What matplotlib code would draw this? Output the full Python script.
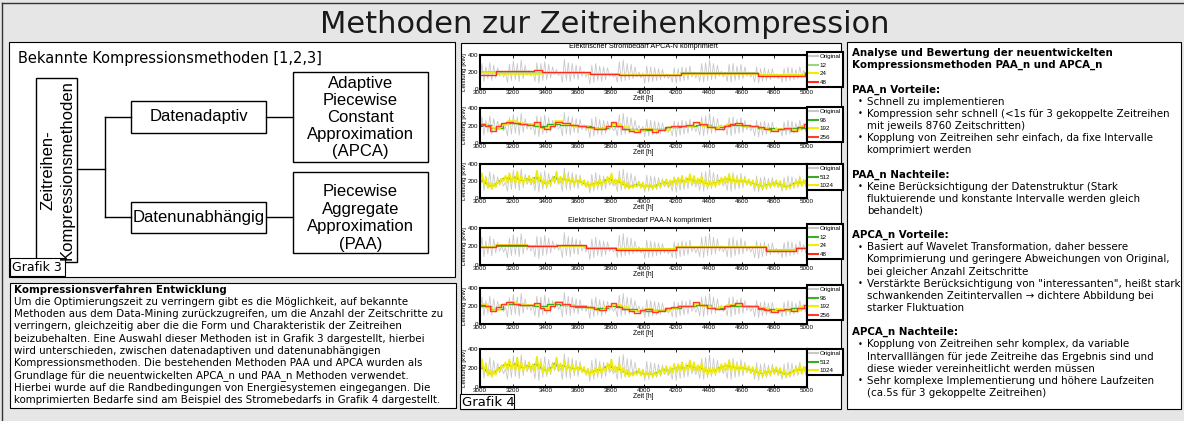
import numpy as np
import matplotlib.pyplot as plt
from matplotlib.patches import Rectangle

W, H = 1184, 421

# ---------------- data ----------------
# original load profile, one value every 12 h starting at 3000 h (low, high per day)
ORIGINAL = [110, 300, 90, 260, 120, 310, 100, 280, 130, 250, 150, 200, 140, 190,
            80, 290, 100, 330, 110, 300, 90, 340, 120, 280, 160, 220, 150, 210,
            90, 310, 70, 300, 100, 320, 110, 290, 130, 260, 170, 230, 160, 200,
            80, 350, 100, 310, 90, 300, 120, 280, 110, 270, 150, 210, 140, 200,
            60, 280, 80, 300, 100, 270, 90, 260, 110, 250, 150, 190, 140, 180,
            80, 320, 90, 340, 100, 300, 110, 290, 120, 260, 140, 200, 130, 190,
            70, 270, 80, 260, 90, 250, 100, 240, 110, 230, 130, 180, 120, 170,
            80, 250, 70, 240, 90, 260, 100, 250, 110, 270, 140, 200, 130, 190,
            90, 300, 80, 310, 100, 340, 110, 300, 120, 280, 150, 210, 140, 200,
            90, 290, 80, 300, 100, 270, 110, 290, 120, 260, 150, 200, 140, 190,
            80, 260, 70, 240, 90, 250, 100, 230, 110, 240, 130, 180, 120, 170,
            80, 240, 90, 260, 100, 250, 110, 230, 120, 260, 140, 220, 130, 280]

# 1024 / 512 values (12 h and 24 h resolution)
SERIES_1024 = [150, 280, 160, 240, 120, 180, 110, 170, 130, 200, 170, 230, 200, 260,
               180, 290, 190, 250, 180, 310, 170, 260, 170, 230, 190, 260, 180, 240,
               170, 320, 190, 260, 150, 210, 140, 200, 160, 240, 190, 310, 180, 250,
               170, 280, 180, 240, 170, 240, 160, 220, 170, 230, 160, 210, 130, 190,
               120, 180, 130, 200, 140, 220, 150, 200, 170, 250, 180, 290, 170, 220,
               160, 240, 150, 200, 120, 180, 110, 150, 120, 160, 130, 190, 120, 180,
               110, 160, 120, 160, 110, 150, 120, 180, 130, 200, 150, 220, 140, 210,
               150, 240, 160, 240, 170, 260, 160, 230, 180, 280, 170, 260, 170, 230,
               170, 250, 150, 210, 130, 200, 140, 200, 140, 210, 160, 240, 180, 250,
               180, 280, 170, 250, 170, 240, 160, 230, 170, 230, 160, 220, 150, 210,
               130, 200, 120, 180, 110, 170, 120, 190, 130, 190, 140, 210, 140, 200,
               120, 180, 110, 150, 120, 170, 140, 200, 150, 230, 140, 210, 160, 250]
SERIES_512 = [215, 200, 150, 135, 160, 200, 230,
              235, 220, 245, 215, 200, 225, 210,
              240, 225, 180, 170, 200, 250, 215,
              225, 210, 205, 190, 200, 185, 160,
              150, 165, 180, 175, 210, 230, 195,
              200, 175, 150, 130, 140, 160, 150,
              135, 140, 130, 150, 165, 185, 175,
              190, 200, 210, 195, 225, 215, 200,
              210, 180, 165, 170, 175, 200, 215,
              225, 210, 205, 195, 200, 190, 180,
              165, 150, 140, 155, 160, 175, 170,
              150, 130, 145, 170, 185, 175, 200]

# step series: segment start times [h] and levels [kW]
N12_APCA_T = [3000, 3100, 3660, 3850, 4230, 4700, 4990]
N12_APCA_V = [200, 190, 180, 170, 185, 165, 185]
N24_APCA_T = [3000, 3100, 3380, 3660, 3850, 4230, 4700, 4990]
N24_APCA_V = [185, 175, 185, 175, 160, 180, 160, 175]
N48_APCA_T = [3000, 3100, 3330, 3380, 3500, 3670, 3850, 4230, 4700, 4990]
N48_APCA_V = [170, 215, 225, 200, 205, 180, 165, 190, 150, 190]

N12_PAA_T = [3000, 3100, 3650, 3830, 4200, 4750, 4930]
N12_PAA_V = [200, 210, 185, 175, 190, 165, 185]
N24_PAA_T = [3000, 3100, 3290, 3650, 3830, 4200, 4380, 4750, 4930]
N24_PAA_V = [195, 215, 205, 180, 170, 195, 190, 160, 180]
N48_PAA_T = [3000, 3100, 3290, 3470, 3650, 3830, 4200, 4380, 4750, 4930]
N48_PAA_V = [195, 220, 210, 215, 180, 165, 200, 190, 150, 180]

N96_T = [3000, 3070, 3140, 3230, 3330, 3410, 3490, 3580, 3680, 3780, 3870,
         3960, 4050, 4140, 4230, 4320, 4410, 4500, 4600, 4700, 4800, 4900]
N96_V = [205, 170, 225, 215, 195, 220, 210, 190, 175, 200, 165,
         150, 155, 180, 200, 210, 180, 205, 195, 170, 155, 175]
N192_T = [3000, 3040, 3080, 3120, 3170, 3220, 3270, 3320, 3370, 3420, 3460,
          3510, 3560, 3610, 3660, 3710, 3760, 3810, 3860, 3910, 3960, 4010,
          4060, 4110, 4160, 4210, 4260, 4310, 4360, 4410, 4460, 4510, 4560,
          4610, 4660, 4710, 4760, 4810, 4860, 4910, 4960]
N192_V = [220, 180, 160, 210, 250, 225, 215, 210, 170, 200, 250,
          215, 200, 195, 175, 160, 185, 215, 185, 150, 140, 165,
          150, 150, 180, 195, 195, 225, 200, 170, 190, 215, 220,
          200, 185, 175, 150, 165, 160, 150, 195]
N256_T = [3000, 3030, 3060, 3095, 3130, 3160, 3200, 3245, 3290, 3330, 3370,
          3390, 3430, 3460, 3500, 3550, 3600, 3650, 3700, 3730, 3770, 3800,
          3830, 3870, 3910, 3940, 3980, 4010, 4050, 4090, 4130, 4170, 4210,
          4260, 4300, 4340, 4390, 4440, 4490, 4530, 4560, 4600, 4650, 4700,
          4740, 4780, 4820, 4860, 4900, 4940, 4980]
N256_V = [215, 200, 140, 190, 225, 240, 225, 215, 210, 235, 180,
          160, 200, 245, 225, 205, 200, 185, 165, 160, 200, 235,
          190, 165, 140, 125, 160, 165, 130, 150, 180, 190, 200,
          205, 240, 215, 180, 165, 200, 215, 230, 205, 195, 180,
          160, 135, 160, 170, 140, 180, 215]

X_TICKS = [3000, 3200, 3400, 3600, 3800, 4000, 4200, 4400, 4600, 4800, 5000]
Y_TICKS = [0, 200, 400]

TITLE = 'Methoden zur Zeitreihenkompression'
LEFT_HEAD = 'Bekannte Kompressionsmethoden [1,2,3]'
ROOT = ['Zeitreihen-', 'Kompressionsmethoden']
APCA_BOX = ['Adaptive', 'Piecewise', 'Constant', 'Approximation', '(APCA)']
PAA_BOX = ['Piecewise', 'Aggregate', 'Approximation', '(PAA)']

LEFT_TEXT = [
    'Um die Optimierungszeit zu verringern gibt es die Möglichkeit, auf bekannte',
    'Methoden aus dem Data-Mining zurückzugreifen, um die Anzahl der Zeitschritte zu',
    'verringern, gleichzeitig aber die die Form und Charakteristik der Zeitreihen',
    'beizubehalten. Eine Auswahl dieser Methoden ist in Grafik 3 dargestellt, hierbei',
    'wird unterschieden, zwischen datenadaptiven und datenunabhängigen',
    'Kompressionsmethoden. Die bestehenden Methoden PAA und APCA wurden als',
    'Grundlage für die neuentwickelten APCA_n und PAA_n Methoden verwendet.',
    'Hierbei wurde auf die Randbedingungen von Energiesystemen eingegangen. Die',
    'komprimierten Bedarfe sind am Beispiel des Stromebedarfs in Grafik 4 dargestellt.',
]

# (kind, text): h = bold heading, b = bullet, c = continuation, '' = blank
RIGHT_TEXT = [
    ('h', 'Analyse und Bewertung der neuentwickelten'),
    ('h', 'Kompressionsmethoden PAA_n und APCA_n'),
    ('', ''),
    ('h', 'PAA_n Vorteile:'),
    ('b', 'Schnell zu implementieren'),
    ('b', 'Kompression sehr schnell (<1s für 3 gekoppelte Zeitreihen'),
    ('c', 'mit jeweils 8760 Zeitschritten)'),
    ('b', 'Kopplung von Zeitreihen sehr einfach, da fixe Intervalle'),
    ('c', 'komprimiert werden'),
    ('', ''),
    ('h', 'PAA_n Nachteile:'),
    ('b', 'Keine Berücksichtigung der Datenstruktur (Stark'),
    ('c', 'fluktuierende und konstante Intervalle werden gleich'),
    ('c', 'behandelt)'),
    ('', ''),
    ('h', 'APCA_n Vorteile:'),
    ('b', 'Basiert auf Wavelet Transformation, daher bessere'),
    ('c', 'Komprimierung und geringere Abweichungen von Original,'),
    ('c', 'bei gleicher Anzahl Zeitschritte'),
    ('b', 'Verstärkte Berücksichtigung von "interessanten", heißt stark'),
    ('c', 'schwankenden Zeitintervallen → dichtere Abbildung bei'),
    ('c', 'starker Fluktuation'),
    ('', ''),
    ('h', 'APCA_n Nachteile:'),
    ('b', 'Kopplung von Zeitreihen sehr komplex, da variable'),
    ('c', 'Intervalllängen für jede Zeitreihe das Ergebnis sind und'),
    ('c', 'diese wieder vereinheitlicht werden müssen'),
    ('b', 'Sehr komplexe Implementierung und höhere Laufzeiten'),
    ('c', '(ca.5s für 3 gekoppelte Zeitreihen)'),
]

plt.rcParams['font.family'] = 'DejaVu Sans'
ARIAL = 'Liberation Sans'
FS = 7.35

fig = plt.figure(figsize=(W / 100, H / 100), dpi=100)
fig.patch.set_facecolor('#e6e6e6')
bg = fig.add_axes([0, 0, 1, 1])
bg.set_xlim(0, W)
bg.set_ylim(H, 0)
bg.axis('off')


def box(x0, y0, x1, y1, lw=0.8, fc='white'):
    bg.add_patch(Rectangle((x0, y0), x1 - x0, y1 - y0, fc=fc, ec='black', lw=lw))


# frame + title
bg.plot([2, W], [3, 3], color='#333333', lw=1.0)
bg.plot([2, 2], [3, H], color='#333333', lw=1.0)
bg.text(605, 33, TITLE, fontsize=22, ha='center', va='baseline', color='#1a1a1a')

# panels
box(9, 42, 455, 277)
box(10, 283, 456, 408)
box(461, 43, 841, 409)
box(847, 42, 1181, 409)

# ---- Grafik 3: tree diagram ----
bg.text(18, 58, LEFT_HEAD, fontsize=10.5, va='center')
box(36, 78, 77, 262, lw=1.0)
bg.text(48, 170, ROOT[0], family=ARIAL, fontsize=12, rotation=90, ha='center', va='center')
bg.text(67, 170, ROOT[1], family=ARIAL, fontsize=12, rotation=90, ha='center', va='center')
bg.plot([77, 105], [169, 169], color='black', lw=1.0)
bg.plot([105, 105], [117, 217], color='black', lw=1.0)
for yy in (117, 217):
    bg.plot([105, 131], [yy, yy], color='black', lw=1.0)
    bg.plot([266, 293], [yy, yy], color='black', lw=1.0)
box(131, 101, 266, 133, lw=1.0)
bg.text(198.5, 117, 'Datenadaptiv', family=ARIAL, fontsize=12, ha='center', va='center')
box(131, 202, 266, 233, lw=1.0)
bg.text(198.5, 217.5, 'Datenunabhängig', family=ARIAL, fontsize=12, ha='center', va='center')
box(293, 72, 428, 162, lw=1.0)
for i, s in enumerate(APCA_BOX):
    bg.text(360.5, 83.5 + i * 16.9, s, family=ARIAL, fontsize=12, ha='center', va='center')
box(293, 172, 428, 253, lw=1.0)
for i, s in enumerate(PAA_BOX):
    bg.text(360.5, 192 + i * 17.4, s, family=ARIAL, fontsize=12, ha='center', va='center')
box(10, 258, 65, 276)
bg.text(12, 267.5, 'Grafik 3', fontsize=9, va='center')

# ---- left text ----
bg.text(14, 290, 'Kompressionsverfahren Entwicklung', fontsize=FS, fontweight='bold', va='center')
for i, s in enumerate(LEFT_TEXT):
    bg.text(14, 301.6 + i * 12.3, s, fontsize=FS, va='center')

# ---- right text ----
for i, (kind, s) in enumerate(RIGHT_TEXT):
    yy = 53 + i * 12.14
    if kind == 'h':
        bg.text(852, yy, s, fontsize=FS, fontweight='bold', va='center')
    elif kind == 'b':
        bg.text(858, yy, '•', fontsize=6, va='center')
        bg.text(867, yy, s, fontsize=FS, va='center')
    elif kind == 'c':
        bg.text(867, yy, s, fontsize=FS, va='center')

# ---- Grafik 4: charts ----
T_ORIG = np.arange(3000, 3000 + 12 * len(ORIGINAL), 12)
T_1024 = np.arange(3000, 3000 + 12 * len(SERIES_1024), 12)
T_512 = np.arange(3000, 3000 + 24 * len(SERIES_512), 24)


def steps(t, v):
    return list(t) + [5000], list(v) + [v[-1]]


def chart(y0, y1, lines, leg_top):
    ax = fig.add_axes([480 / W, 1 - y1 / H, (807 - 480) / W, (y1 - y0) / H])
    ax.plot(T_ORIG, ORIGINAL, color='#c8c8c8', lw=0.6, label='Original')
    for x, y, c, lw, lab, st in lines:
        if st:
            ax.step(x, y, where='post', color=c, lw=lw, label=lab)
        else:
            ax.plot(x, y, color=c, lw=lw, label=lab)
    ax.set_xlim(3000, 5000)
    ax.set_ylim(0, 400)
    ax.set_xticks(X_TICKS)
    ax.set_yticks(Y_TICKS)
    ax.tick_params(direction='in', top=True, length=2, width=0.6, labelsize=4.5, pad=1)
    for lab in ax.get_xticklabels() + ax.get_yticklabels():
        lab.set_family(ARIAL)
    for sp in ax.spines.values():
        sp.set_linewidth(1.5)
    ax.set_xlabel('Zeit [h]', fontsize=4.8, family=ARIAL, labelpad=0)
    ax.set_ylabel('Leistung [kW]', fontsize=4.5, family=ARIAL, labelpad=1)
    leg = ax.legend(loc='upper left', bbox_to_anchor=(1.0, 1 + (y0 - leg_top) / (y1 - y0)),
                    borderaxespad=0, prop={'family': ARIAL, 'size': 4.5},
                    handlelength=1.4, handletextpad=0.3, borderpad=0.3, labelspacing=0.5,
                    fancybox=False, framealpha=1)
    leg.get_frame().set_edgecolor('black')
    leg.get_frame().set_linewidth(1.5)
    for h in leg.get_lines():
        h.set_linewidth(1.5)
    return ax


bg.text(643, 47, 'Elektrischer Strombedarf APCA-N komprimiert', family=ARIAL, fontsize=5.2,
        ha='center', va='center')
bg.text(640, 220, 'Elektrischer Strombedarf PAA-N komprimiert', family=ARIAL, fontsize=5.2,
        ha='center', va='center')

chart(55, 89, [
    (*steps(N12_APCA_T, N12_APCA_V), '#9ad67c', 1.2, '12', True),
    (*steps(N24_APCA_T, N24_APCA_V), '#f2ee00', 1.2, '24', True),
    (*steps(N48_APCA_T, N48_APCA_V), '#ff2a1a', 1.0, '48', True),
], 52)
chart(108, 143, [
    (*steps(N96_T, N96_V), '#3cb01e', 1.0, '96', True),
    (*steps(N192_T, N192_V), '#f2ee00', 1.1, '192', True),
    (*steps(N256_T, N256_V), '#ff3a2a', 1.0, '256', True),
], 107)
chart(164, 198, [
    (T_512, SERIES_512, '#3ca82a', 1.0, '512', False),
    (T_1024, SERIES_1024, '#efea10', 1.3, '1024', False),
], 164)
chart(228, 265, [
    (*steps(N12_PAA_T, N12_PAA_V), '#3cb01e', 1.2, '12', True),
    (*steps(N24_PAA_T, N24_PAA_V), '#f2ee00', 1.2, '24', True),
    (*steps(N48_PAA_T, N48_PAA_V), '#ff2a1a', 1.0, '48', True),
], 224)
chart(288, 324, [
    (*steps(N96_T, N96_V), '#3cb01e', 1.0, '96', True),
    (*steps(N192_T, N192_V), '#f2ee00', 1.1, '192', True),
    (*steps(N256_T, N256_V), '#ff3a2a', 1.0, '256', True),
], 285)
chart(349, 387, [
    (T_512, SERIES_512, '#3ca82a', 1.0, '512', False),
    (T_1024, SERIES_1024, '#efea10', 1.3, '1024', False),
], 349)

box(460, 394, 514, 409)
bg.text(462, 402, 'Grafik 4', fontsize=9.5, va='center')

fig.savefig('out.png', dpi=100, facecolor=fig.get_facecolor())
